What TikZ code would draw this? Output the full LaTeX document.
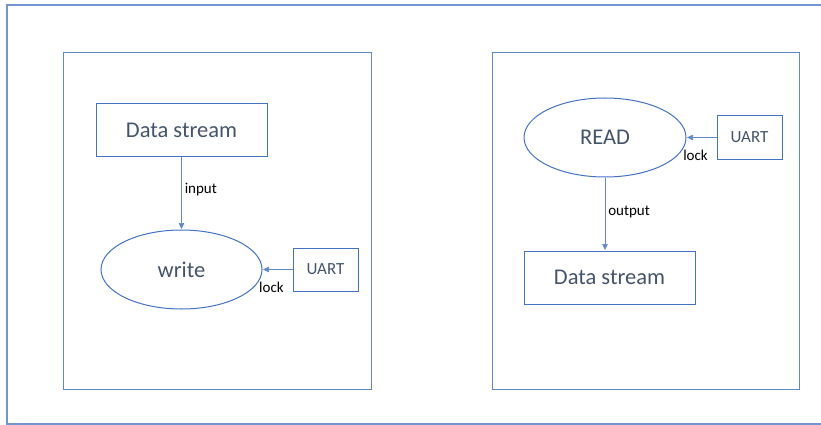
\documentclass[tikz,border=0pt]{standalone}
\usepackage{fontspec}
\setmainfont{Carlito}
\usetikzlibrary{arrows.meta, positioning, shapes.geometric}
\definecolor{lineblue}{HTML}{4472C4}
\definecolor{textslate}{HTML}{44546A}
\tikzstyle{uart}=[x=1pt, y=-1pt, shorten >=0.5pt, >={Triangle[length=6pt,width=5.5pt]}]
\tikzstyle{block}=[draw=lineblue, line width=1pt, text=textslate, font=\fontsize{22.5}{26}\selectfont]
\tikzstyle{port}=[block, minimum width=65pt, minimum height=43pt, font=\fontsize{17}{20}\selectfont]
\tikzstyle{wire}=[lineblue!85, line width=0.6pt]
\tikzstyle{tag}=[text=black, inner sep=3pt, font=\fontsize{15}{18}\selectfont]

\begin{document}
\begin{tikzpicture}[uart]
  \useasboundingbox (0,0) rectangle (821,425);
  \draw[lineblue!75, line width=1.5pt] (840,5) -- (7,5) -- (7,424) -- (840,424);
  \draw[lineblue!85, line width=1pt] (63,53) rectangle (371,389);
  \draw[lineblue!85, line width=1pt] (492,53) rectangle (799,389);

  \node[block, minimum width=171pt, minimum height=52pt] (wsrc) at (181.5,130) {Data stream};
  \node[block, ellipse, minimum width=161pt, minimum height=79pt] (write) [below=73pt of wsrc] {write};
  \node[port] (wuart) [right=30pt of write] {UART};
  \path[->, wire] (wsrc) edge node[tag, right, pos=.45] {input} (write);
  \path[->, wire] (wuart) edge node[tag, below, pos=.7, yshift=-9pt] {lock} (write);

  \node[block, ellipse, minimum width=162pt, minimum height=79pt] (read) at (605,137.5) {READ};
  \node[port] (ruart) [right=30pt of read] {UART};
  \node[block, minimum width=171pt, minimum height=53pt] (rdst) [below=73pt of read, xshift=4.5pt] {Data stream};
  \path[->, wire] (ruart) edge node[tag, below, pos=.7, yshift=-9pt] {lock} (read);
  \path[->, wire] (read) edge node[tag, right, pos=.47] {output} (read |- rdst.north);
\end{tikzpicture}
\end{document}
